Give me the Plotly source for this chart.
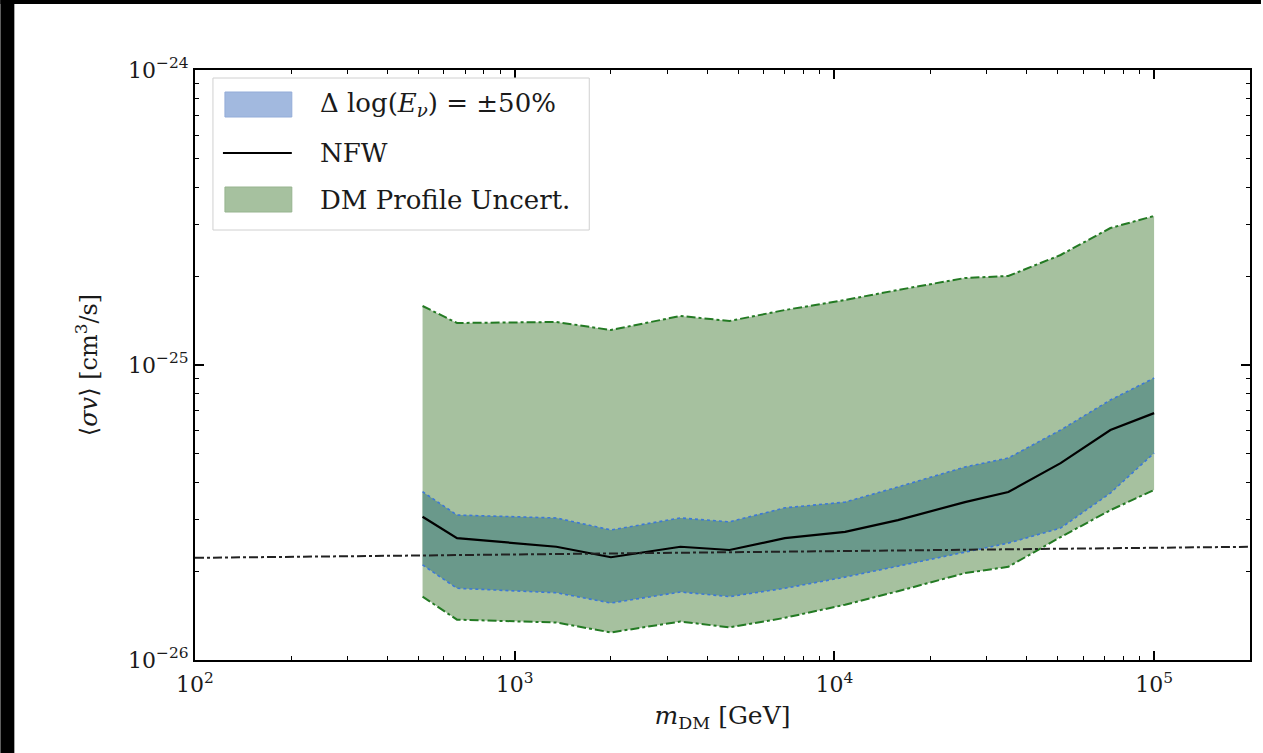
import plotly.graph_objects as go

# ---- data ----
mass_gev = [515, 660, 1350, 2000, 3300, 4700, 7000, 10800, 15800, 25600, 35000, 51000, 73000, 100000]

profile_upper = [1.585e-25, 1.388e-25, 1.399e-25, 1.314e-25, 1.466e-25, 1.41e-25, 1.536e-25,
                 1.661e-25, 1.796e-25, 1.972e-25, 2.003e-25, 2.36e-25, 2.913e-25, 3.2e-25]
profile_lower = [1.64e-26, 1.37e-26, 1.34e-26, 1.24e-26, 1.35e-26, 1.29e-26, 1.39e-26,
                 1.54e-26, 1.71e-26, 1.97e-26, 2.07e-26, 2.61e-26, 3.22e-26, 3.77e-26]
energy_upper = [3.72e-26, 3.10e-26, 3.03e-26, 2.76e-26, 3.03e-26, 2.94e-26, 3.28e-26,
                3.43e-26, 3.86e-26, 4.51e-26, 4.84e-26, 6.02e-26, 7.61e-26, 9.03e-26]
energy_lower = [2.10e-26, 1.75e-26, 1.69e-26, 1.56e-26, 1.70e-26, 1.64e-26, 1.75e-26,
                1.91e-26, 2.08e-26, 2.32e-26, 2.49e-26, 2.80e-26, 3.68e-26, 5.03e-26]
nfw = [3.06e-26, 2.59e-26, 2.42e-26, 2.23e-26, 2.42e-26, 2.36e-26, 2.59e-26,
       2.72e-26, 2.98e-26, 3.43e-26, 3.71e-26, 4.65e-26, 6.02e-26, 6.87e-26]

thermal_mass = [100, 199526]
thermal_xsec = [2.22e-26, 2.42e-26]

x_tickvals = [1e2, 1e3, 1e4, 1e5]
x_ticktext = ["10<sup>2</sup>", "10<sup>3</sup>", "10<sup>4</sup>", "10<sup>5</sup>"]
y_tickvals = [1e-26, 1e-25, 1e-24]
y_ticktext = ["10<sup>−26</sup>", "10<sup>−25</sup>", "10<sup>−24</sup>"]

legend_labels = ["Δ log(<i>E</i><sub><i>ν</i></sub>) = ±50%", "NFW", "DM Profile Uncert."]

# ---- styles ----
GREEN_FILL = "#a6c19f"
OVERLAP_FILL = "#6a998b"
BLUE_LEGEND = "#a2b9df"
GREEN_EDGE = "#237a23"
BLUE_EDGE = "#3c78d8"
FONT = "DejaVu Serif"
TXT = "#1a1a1a"

FIG_W, FIG_H = 1263, 753
# plot-area geometry in pixels (used for legend / frame placement)
L, R, T, B = 195, 1252, 70, 660
W_, H_ = R - L, B - T


def px(x):
    return (x - L) / W_


def py(y):
    return (B - y) / H_


fig = go.Figure()

# DM profile band
fig.add_trace(go.Scatter(x=mass_gev, y=profile_upper, mode="lines",
                         line=dict(color=GREEN_EDGE, width=2, dash="dashdot"),
                         showlegend=False, hoverinfo="skip"))
fig.add_trace(go.Scatter(x=mass_gev, y=profile_lower, mode="lines", fill="tonexty",
                         fillcolor=GREEN_FILL,
                         line=dict(color=GREEN_EDGE, width=2, dash="dashdot"),
                         showlegend=False, hoverinfo="skip"))
# energy band
fig.add_trace(go.Scatter(x=mass_gev, y=energy_upper, mode="lines",
                         line=dict(color=BLUE_EDGE, width=1.6, dash="dot"),
                         showlegend=False, hoverinfo="skip"))
fig.add_trace(go.Scatter(x=mass_gev, y=energy_lower, mode="lines", fill="tonexty",
                         fillcolor=OVERLAP_FILL,
                         line=dict(color=BLUE_EDGE, width=1.6, dash="dot"),
                         showlegend=False, hoverinfo="skip"))
# NFW
fig.add_trace(go.Scatter(x=mass_gev, y=nfw, mode="lines",
                         line=dict(color="black", width=2.2),
                         showlegend=False))
# thermal relic
fig.add_trace(go.Scatter(x=thermal_mass, y=thermal_xsec, mode="lines",
                         line=dict(color="#222222", width=2, dash="dashdot"),
                         showlegend=False, hoverinfo="skip"))

axis_common = dict(
    type="log", showgrid=False, zeroline=False, showline=True, linecolor="black",
    linewidth=2, mirror="allticks", ticks="inside", ticklen=9, tickwidth=1.5,
    tickcolor="black",
    minor=dict(ticks="inside", ticklen=4, tickwidth=1, tickcolor="black", showgrid=False),
    tickfont=dict(family=FONT, size=22, color=TXT),
)

minor_x = [m * 10 ** e for e in range(2, 6) for m in range(2, 10) if m * 10 ** e < 2e5]
minor_y = [m * 10.0 ** e for e in (-26, -25) for m in range(2, 10)]

fig.update_xaxes(**axis_common)
fig.update_xaxes(range=[2, 5.3], tickvals=x_tickvals, ticktext=x_ticktext,
                 minor=dict(tickvals=minor_x), ticklabelstandoff=4,
                 title=dict(text="<i>m</i><sub>DM</sub> [GeV]",
                            font=dict(family=FONT, size=25, color=TXT), standoff=10))
fig.update_yaxes(**axis_common)
fig.update_yaxes(range=[-26, -24], tickvals=y_tickvals, ticktext=y_ticktext,
                 minor=dict(tickvals=minor_y),
                 title=dict(text="⟨<i>σv</i>⟩ [cm<sup>3</sup>/s]",
                            font=dict(family=FONT, size=24, color=TXT), standoff=24))

# ---- manual legend (matplotlib-like) ----
shapes = [
    dict(type="rect", xref="paper", yref="paper", x0=px(213), x1=px(590), y0=py(230), y1=py(78),
         fillcolor="white", line=dict(color="#d0d0d0", width=1), layer="above"),
    dict(type="rect", xref="paper", yref="paper", x0=px(225), x1=px(292), y0=py(117), y1=py(92),
         fillcolor=BLUE_LEGEND, line=dict(color="#93acd8", width=1), layer="above"),
    dict(type="line", xref="paper", yref="paper", x0=px(223), x1=px(292), y0=py(153), y1=py(153),
         line=dict(color="black", width=2), layer="above"),
    dict(type="rect", xref="paper", yref="paper", x0=px(225), x1=px(292), y0=py(212), y1=py(187),
         fillcolor=GREEN_FILL, line=dict(color="#97b48f", width=1), layer="above"),
    # black frame edges of the screenshot
    dict(type="rect", xref="paper", yref="paper", x0=px(0), x1=px(14), y0=py(FIG_H), y1=py(0),
         fillcolor="black", line=dict(width=0), layer="above"),
    dict(type="rect", xref="paper", yref="paper", x0=px(0), x1=px(FIG_W), y0=py(4), y1=py(0),
         fillcolor="black", line=dict(width=0), layer="above"),
]

annotations = []
for label, ypix in zip(legend_labels, [105, 153, 200]):
    annotations.append(dict(text=label, xref="paper", yref="paper", x=px(318), y=py(ypix),
                            xanchor="left", yanchor="middle", showarrow=False,
                            font=dict(family=FONT, size=26, color=TXT)))

fig.update_layout(
    width=FIG_W, height=FIG_H,
    margin=dict(l=L, r=FIG_W - R, t=T, b=FIG_H - B),
    paper_bgcolor="white", plot_bgcolor="white",
    showlegend=False,
    shapes=shapes,
    annotations=annotations,
)

fig.write_html("out.html")
